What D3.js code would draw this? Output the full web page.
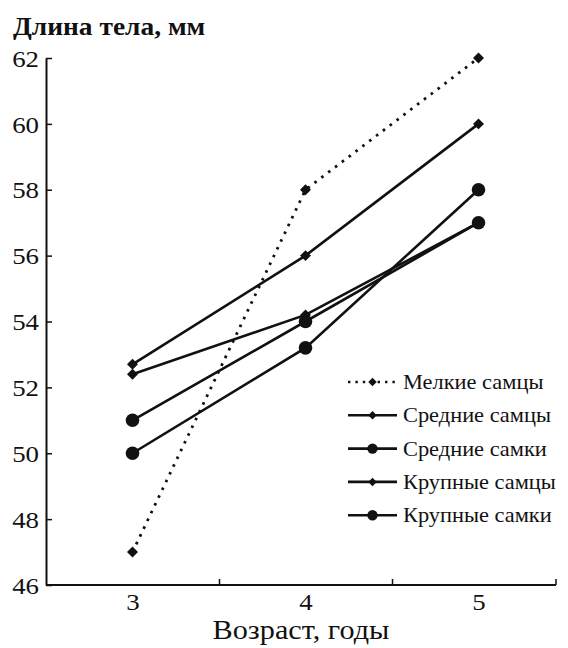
<!DOCTYPE html>
<html>
<head>
<meta charset="utf-8">
<script src="https://cdn.jsdelivr.net/npm/d3@7"></script>
<style>
  html, body { margin: 0; padding: 0; background: #fff; }
  svg { display: block; }
</style>
</head>
<body>
<svg id="chart" width="568" height="648"></svg>
<script>
// Age groups (years)
const ages = [3, 4, 5];

// Body length, mm, per group
const melkieSamcy   = [47, 58, 62];
const srednieSamcy  = [52.4, 54.2, 57];
const srednieSamki  = [51, 54, 57];
const krupnyeSamcy  = [52.7, 56, 60];
const krupnyeSamki  = [50, 53.2, 58];

const seriesNames = ["Мелкие самцы", "Средние самцы", "Средние самки", "Крупные самцы", "Крупные самки"];
const seriesValues = [melkieSamcy, srednieSamcy, srednieSamki, krupnyeSamcy, krupnyeSamki];
const seriesMarker = ["diamond", "diamond", "circle", "diamond", "circle"];
const seriesDashed = [true, false, false, false, false];

const yTicks = [46, 48, 50, 52, 54, 56, 58, 60, 62];
const yTitle = "Длина тела, мм";
const xTitle = "Возраст, годы";

const fontFamily = "\"Liberation Serif\", \"Times New Roman\", serif";
const stretch = 1.12;   // slightly widened lettering
const ink = "#111";

const svg = d3.select("#chart");

const x = d3.scaleLinear().domain([2.5, 5.5]).range([46, 565]);
const y = d3.scaleLinear().domain([46, 62]).range([585, 58]);
const xAxisEnd = 556;

// Widen a text node horizontally around its anchor point
function widen(sel) {
  sel.each(function () {
    const t = d3.select(this);
    const tx = +t.attr("x") || 0, ty = +t.attr("y") || 0;
    t.attr("transform", `translate(${tx},${ty}) scale(${stretch},1) translate(${-tx},${-ty})`);
  });
}

// Y axis: ticks pointing inward
const yAxis = d3.axisLeft(y).tickValues(yTicks).tickSizeInner(-6).tickSizeOuter(0).tickPadding(7);
const gy = svg.append("g").attr("transform", `translate(${x.range()[0]},0)`).call(yAxis)
  .attr("font-family", fontFamily);
gy.select(".domain").attr("stroke", ink).attr("stroke-width", 2);
gy.selectAll(".tick line").attr("stroke", ink).attr("stroke-width", 1.5);
gy.selectAll(".tick text").attr("font-size", 24).attr("fill", ink).attr("dy", "0.34em").call(widen);

// X axis line with separators between age groups
const gx = svg.append("g").attr("transform", `translate(0,${y.range()[0]})`);
gx.append("line").attr("x1", x.range()[0]).attr("x2", xAxisEnd)
  .attr("stroke", ink).attr("stroke-width", 2);
const sepAxis = d3.axisTop(x).tickValues([3.5, 4.5]).tickSize(6).tickFormat("");
const gsep = svg.append("g").attr("transform", `translate(0,${y.range()[0]})`).call(sepAxis);
gsep.select(".domain").remove();
gsep.selectAll(".tick line").attr("stroke", ink).attr("stroke-width", 1.5);
gx.append("line").attr("x1", xAxisEnd).attr("x2", xAxisEnd).attr("y1", 0).attr("y2", -6)
  .attr("stroke", ink).attr("stroke-width", 1.5);

const labAxis = d3.axisBottom(x).tickValues(ages).tickSize(0).tickPadding(8).tickFormat(d3.format("d"));
const glab = svg.append("g").attr("transform", `translate(0,${y.range()[0]})`).call(labAxis)
  .attr("font-family", fontFamily);
glab.select(".domain").remove();
glab.selectAll(".tick text").attr("font-size", 24).attr("fill", ink).call(widen);

// Axis titles
svg.append("text").attr("x", 13).attr("y", 35).attr("font-size", 24.5).attr("font-weight", "bold")
  .attr("font-family", fontFamily).attr("fill", ink).text(yTitle).call(widen);
svg.append("text").attr("x", 301).attr("y", 639).attr("text-anchor", "middle").attr("font-size", 27)
  .attr("font-family", fontFamily).attr("fill", ink).text(xTitle).call(widen);

// Marker drawing
const diamondPath = d3.symbol().type(d3.symbolSquare).size(60)();
const smallDiamondPath = d3.symbol().type(d3.symbolSquare).size(36)();
function drawMarker(g, kind, cx, cy) {
  if (kind === "circle") {
    g.append("circle").attr("cx", cx).attr("cy", cy).attr("r", 6.8).attr("fill", ink);
  } else {
    g.append("path").attr("d", diamondPath)
      .attr("transform", `translate(${cx},${cy}) rotate(45)`).attr("fill", ink);
  }
}

const line = d3.line().x((d, i) => x(ages[i])).y(d => y(d));
const dotted = "2.6,6";

const plot = svg.append("g");
seriesValues.forEach((vals, s) => {
  plot.append("path").datum(vals).attr("d", line).attr("fill", "none")
    .attr("stroke", ink)
    .attr("stroke-width", seriesDashed[s] ? 2.8 : 2.6)
    .attr("stroke-dasharray", seriesDashed[s] ? dotted : null);
});
seriesValues.forEach((vals, s) => {
  const g = plot.append("g");
  vals.forEach((v, i) => drawMarker(g, seriesMarker[s], x(ages[i]), y(v)));
});

// Legend
const legend = svg.append("g").attr("transform", "translate(348,382)");
seriesNames.forEach((name, s) => {
  const row = legend.append("g").attr("transform", `translate(0,${s * 33.3})`);
  row.append("line").attr("x1", 0).attr("x2", 49).attr("y1", 0).attr("y2", 0)
    .attr("stroke", ink).attr("stroke-width", 2.6)
    .attr("stroke-dasharray", seriesDashed[s] ? "2.4,5" : null);
  if (seriesMarker[s] === "circle") {
    row.append("circle").attr("cx", 24.5).attr("cy", 0).attr("r", 5.2).attr("fill", ink);
  } else {
    row.append("path").attr("d", smallDiamondPath)
      .attr("transform", "translate(24.5,0) rotate(45)").attr("fill", ink);
  }
  row.append("text").attr("x", 55).attr("y", 7).attr("font-size", 20)
    .attr("font-family", fontFamily).attr("fill", ink).text(name).call(widen);
});
</script>
</body>
</html>
